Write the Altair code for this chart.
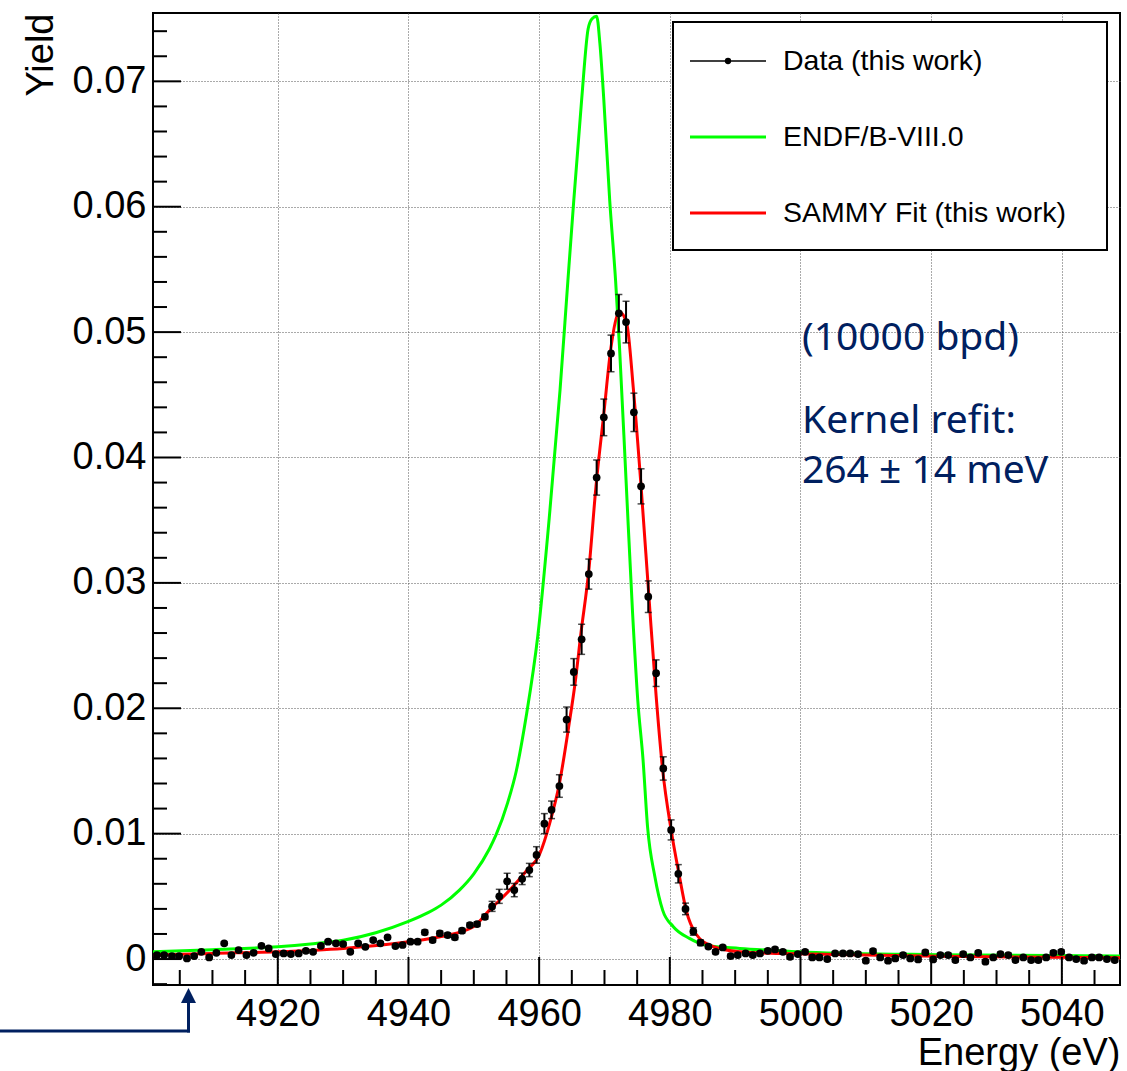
import altair as alt
import pandas as pd

# ---------------- data ----------------
energy = [
    4901.5, 4902.6, 4903.8, 4904.9, 4906.1, 4907.2, 4908.3, 4909.5, 4910.6, 4911.8,
    4912.9, 4914.0, 4915.2, 4916.3, 4917.5, 4918.6, 4919.7, 4920.9, 4922.0, 4923.2,
    4924.3, 4925.4, 4926.6, 4927.7, 4928.9, 4930.0, 4931.1, 4932.3, 4933.4, 4934.6,
    4935.7, 4936.8, 4938.0, 4939.1, 4940.3, 4941.4, 4942.5, 4943.7, 4944.8, 4946.0,
    4947.1, 4948.2, 4949.4, 4950.5, 4951.7, 4952.8, 4953.9, 4955.1, 4956.2, 4957.4,
    4958.5, 4959.6, 4960.8, 4961.9, 4963.1, 4964.2, 4965.3, 4966.5, 4967.6, 4968.8,
    4969.9, 4971.0, 4972.2, 4973.3, 4974.5, 4975.6, 4976.7, 4977.9, 4979.0, 4980.2,
    4981.3, 4982.4, 4983.6, 4984.7, 4985.9, 4987.0, 4988.1, 4989.3, 4990.4, 4991.6,
    4992.7, 4993.8, 4995.0, 4996.1, 4997.3, 4998.4, 4999.6, 5000.7, 5001.8, 5002.9,
    5004.1, 5005.3, 5006.5, 5007.6, 5008.8, 5010.0, 5011.1, 5012.2, 5013.4, 5014.5,
    5015.7, 5016.8, 5018.0, 5019.1, 5020.3, 5021.4, 5022.6, 5023.7, 5024.9, 5026.0,
    5027.2, 5028.3, 5029.5, 5030.6, 5031.8, 5032.9, 5034.1, 5035.3, 5036.4, 5037.6,
    5038.7, 5039.9, 5041.1, 5042.2, 5043.4, 5044.6, 5045.7, 5046.9, 5048.1,
]
yield_data = [
    0.00032, 0.00032, 0.00024, 0.00024, 0.00005, 0.00024, 0.00058, 0.00013, 0.00050, 0.00125,
    0.00032, 0.00072, 0.00032, 0.00050, 0.00106, 0.00085, 0.00040, 0.00045, 0.00040, 0.00045,
    0.00066, 0.00058, 0.00106, 0.00138, 0.00125, 0.00120, 0.00058, 0.00125, 0.00098, 0.00151,
    0.00125, 0.00173, 0.00104, 0.00112, 0.00138, 0.00138, 0.00213, 0.00151, 0.00205, 0.00191,
    0.00173, 0.00226, 0.00271, 0.00279, 0.00337, 0.00420, 0.00500, 0.00620, 0.00550, 0.00640,
    0.00710, 0.00830, 0.01080, 0.01190, 0.01380, 0.01910, 0.02290, 0.02550, 0.03070, 0.03840,
    0.04320, 0.04830, 0.05150, 0.05080, 0.04360, 0.03770, 0.02890, 0.02280, 0.01520, 0.01030,
    0.00680, 0.00400, 0.00220, 0.00130, 0.00100, 0.00058, 0.00093, 0.00024, 0.00032, 0.00045,
    0.00032, 0.00045, 0.00066, 0.00077, 0.00058, 0.00018, 0.00040, 0.00058, 0.00013, 0.00013,
    0.00000, 0.00045, 0.00045, 0.00045, 0.00040, -0.00013, 0.00064, 0.00013, -0.00013, 0.00005,
    0.00032, 0.00005, -0.00003, 0.00053, -0.00003, 0.00032, 0.00032, -0.00008, 0.00040, 0.00013,
    0.00050, -0.00021, 0.00013, 0.00040, 0.00032, -0.00008, 0.00013, -0.00008, -0.00008, 0.00013,
    0.00050, 0.00058, 0.00013, 0.00000, -0.00013, 0.00013, 0.00013, 0.00000, -0.00008,
]
yield_err = [
    0.00012, 0.00012, 0.00012, 0.00012, 0.00012, 0.00012, 0.00012, 0.00012, 0.00012, 0.00012,
    0.00012, 0.00012, 0.00012, 0.00012, 0.00012, 0.00012, 0.00012, 0.00012, 0.00012, 0.00012,
    0.00012, 0.00012, 0.00012, 0.00012, 0.00012, 0.00012, 0.00012, 0.00012, 0.00012, 0.00012,
    0.00012, 0.00012, 0.00012, 0.00012, 0.00012, 0.00012, 0.00018, 0.00018, 0.00018, 0.00018,
    0.00018, 0.00018, 0.00018, 0.00018, 0.00020, 0.00040, 0.00056, 0.00064, 0.00053, 0.00046,
    0.00053, 0.00066, 0.00080, 0.00070, 0.00090, 0.00100, 0.00106, 0.00120, 0.00120, 0.00140,
    0.00146, 0.00146, 0.00150, 0.00166, 0.00153, 0.00140, 0.00126, 0.00106, 0.00093, 0.00080,
    0.00073, 0.00046, 0.00030, 0.00022, 0.00015, 0.00015, 0.00015, 0.00015, 0.00015, 0.00015,
    0.00015, 0.00015, 0.00015, 0.00015, 0.00015, 0.00015, 0.00015, 0.00015, 0.00015, 0.00015,
    0.00015, 0.00015, 0.00015, 0.00015, 0.00015, 0.00015, 0.00015, 0.00015, 0.00015, 0.00015,
    0.00015, 0.00015, 0.00015, 0.00015, 0.00015, 0.00015, 0.00015, 0.00015, 0.00015, 0.00015,
    0.00015, 0.00015, 0.00015, 0.00015, 0.00015, 0.00015, 0.00015, 0.00015, 0.00015, 0.00015,
    0.00015, 0.00015, 0.00015, 0.00015, 0.00015, 0.00015, 0.00015, 0.00015, 0.00015,
]

endf_e = [4900.9, 4910.0, 4920.0, 4925.0, 4930.0, 4935.0, 4940.0, 4943.0, 4945.0, 4947.8,
          4950.0, 4952.4, 4953.4, 4955.2, 4956.5, 4958.0, 4959.8, 4961.6, 4963.2, 4964.4,
          4965.3, 4966.5, 4967.5, 4968.1, 4968.8, 4969.3, 4969.9, 4970.8, 4971.7, 4972.3,
          4973.3, 4974.3, 4975.1, 4975.9, 4976.6, 4977.7, 4978.9, 4980.5, 4983.0, 4985.6,
          4990.7, 4996.8, 5001.0, 5021.0, 5048.9]
endf_y = [0.00058, 0.00075, 0.00098, 0.00120, 0.00150, 0.00210, 0.00300, 0.00370, 0.00430, 0.00550,
          0.00680, 0.00880, 0.00990, 0.01250, 0.01500, 0.01930, 0.02580, 0.03550, 0.04540, 0.05410,
          0.06050, 0.06850, 0.07420, 0.07500, 0.07520, 0.07300, 0.06850, 0.06050, 0.05410, 0.04880,
          0.03820, 0.02760, 0.02060, 0.01590, 0.01050, 0.00660, 0.00390, 0.00260, 0.00165, 0.00110,
          0.00085, 0.00066, 0.00055, 0.00035, 0.00025]

sammy_e = [4900.9, 4910.0, 4920.0, 4930.0, 4940.0, 4945.0, 4950.0, 4952.4, 4955.5, 4958.0,
           4960.1, 4961.6, 4963.1, 4964.6, 4965.5, 4966.4, 4967.6, 4968.7, 4969.9, 4971.0,
           4972.3, 4973.4, 4974.4, 4975.6, 4976.8, 4977.9, 4978.9, 4980.2, 4981.4, 4982.5,
           4984.0, 4986.6, 4990.7, 4996.8, 5001.0, 5021.0, 5048.9]
sammy_y = [0.00032, 0.00045, 0.00058, 0.00085, 0.00138, 0.00180, 0.00260, 0.00390, 0.00550, 0.00700,
           0.00840, 0.01080, 0.01400, 0.01880, 0.02200, 0.02600, 0.03100, 0.03770, 0.04350, 0.04880,
           0.05160, 0.05070, 0.04560, 0.03770, 0.02890, 0.02100, 0.01510, 0.01030, 0.00680, 0.00390,
           0.00200, 0.00100, 0.00058, 0.00045, 0.00040, 0.00022, 0.00010]

x_major = [4920, 4940, 4960, 4980, 5000, 5020, 5040]
x_minor = [v for v in range(4905, 5049, 5) if v % 20 != 0]
y_major = [0.0, 0.01, 0.02, 0.03, 0.04, 0.05, 0.06, 0.07]
y_minor = [-0.002, 0.002, 0.004, 0.006, 0.008, 0.012, 0.014, 0.016, 0.018, 0.022, 0.024,
           0.026, 0.028, 0.032, 0.034, 0.036, 0.038, 0.042, 0.044, 0.046, 0.048, 0.052,
           0.054, 0.056, 0.058, 0.062, 0.064, 0.066, 0.068, 0.072, 0.074]

legend_labels = ["Data (this work)", "ENDF/B-VIII.0", "SAMMY Fit (this work)"]
legend_colors = ["black", "#00ff00", "#ff0000"]
notes = ["(10000 bpd)", "Kernel refit:", "264 \u00b1 14 meV"]

# ---------------- layout ----------------
W, H = 967, 972
XDOM = [4900.9, 5048.9]
YDOM = [-0.00207, 0.07545]
FONT = "Liberation Sans"
NAVY = "#002060"
GRID = "#555555"

xs = alt.Scale(domain=XDOM, nice=False, zero=False)
ys = alt.Scale(domain=YDOM, nice=False, zero=False)

df = pd.DataFrame({"E": energy, "Y": yield_data, "err": yield_err})
df["lo"] = df["Y"] - df["err"]
df["hi"] = df["Y"] + df["err"]

x_axis = alt.Axis(values=x_major, format="d", labelFontSize=38, labelFont=FONT, labelColor="black",
                  ticks=False, domain=False, grid=True, gridColor=GRID, gridDash=[1, 2], gridWidth=1,
                  labelPadding=10, title="Energy (eV)", titleFontSize=38, titleFont=FONT,
                  titleFontWeight="normal", titleColor="black", titleX=W, titleY=79,
                  titleAlign="right", titleBaseline="alphabetic", labelFlush=False)
y_axis = alt.Axis(values=y_major, labelExpr="datum.value == 0 ? '0' : format(datum.value, '.2f')",
                  labelFontSize=38, labelFont=FONT, labelColor="black", ticks=False, domain=False,
                  grid=True, gridColor=GRID, gridDash=[1, 2], gridWidth=1, labelPadding=7,
                  title="Yield", titleFontSize=38, titleFont=FONT, titleFontWeight="normal",
                  titleColor="black", titleAngle=270, titleX=-101, titleY=0, titleAlign="right",
                  titleBaseline="alphabetic", labelFlush=False)


def X(field):
    return alt.X(field, scale=xs, axis=x_axis)


def Y(field):
    return alt.Y(field, scale=ys, axis=y_axis)


layers = []

# curves
endf_df = pd.DataFrame({"E": endf_e, "Y": endf_y})
sammy_df = pd.DataFrame({"E": sammy_e, "Y": sammy_y})
layers.append(alt.Chart(endf_df).mark_line(color="#00ff00", strokeWidth=3, interpolate="monotone").encode(
    x=X("E:Q"), y=Y("Y:Q")))
layers.append(alt.Chart(sammy_df).mark_line(color="#ff0000", strokeWidth=3, interpolate="monotone").encode(
    x=X("E:Q"), y=Y("Y:Q")))

# data: error bars, caps, points
layers.append(alt.Chart(df).mark_rule(color="black", strokeWidth=2).encode(
    x=X("E:Q"), y=Y("lo:Q"), y2="hi:Q"))
layers.append(alt.Chart(df).mark_tick(color="black", thickness=1.5, size=7, orient="horizontal").encode(
    x=X("E:Q"), y=Y("lo:Q")))
layers.append(alt.Chart(df).mark_tick(color="black", thickness=1.5, size=7, orient="horizontal").encode(
    x=X("E:Q"), y=Y("hi:Q")))
layers.append(alt.Chart(df).mark_circle(color="black", size=60, opacity=1).encode(
    x=X("E:Q"), y=Y("Y:Q")))

# inward ticks
layers.append(alt.Chart(pd.DataFrame({"v": x_major})).mark_rule(color="black", strokeWidth=2).encode(
    x=X("v:Q"), y=alt.value(H), y2=alt.value(H - 28)))
layers.append(alt.Chart(pd.DataFrame({"v": x_minor})).mark_rule(color="black", strokeWidth=2).encode(
    x=X("v:Q"), y=alt.value(H), y2=alt.value(H - 15)))
layers.append(alt.Chart(pd.DataFrame({"v": y_major})).mark_rule(color="black", strokeWidth=2).encode(
    y=Y("v:Q"), x=alt.value(0), x2=alt.value(28)))
layers.append(alt.Chart(pd.DataFrame({"v": y_minor})).mark_rule(color="black", strokeWidth=2).encode(
    y=Y("v:Q"), x=alt.value(0), x2=alt.value(14)))

# legend box
one = pd.DataFrame({"k": [0]})
layers.append(alt.Chart(one).mark_rect(fill="white", stroke="black", strokeWidth=2).encode(
    x=alt.value(520), x2=alt.value(954), y=alt.value(9), y2=alt.value(237)))
for lab, col, yy in zip(legend_labels, legend_colors, [48, 124, 200]):
    row = pd.DataFrame({"t": [lab]})
    layers.append(alt.Chart(row).mark_rule(color=col, strokeWidth=(1.5 if col == "black" else 3)).encode(
        x=alt.value(537), x2=alt.value(613), y=alt.value(yy)))
    layers.append(alt.Chart(row).mark_text(align="left", baseline="middle", fontSize=28.5, font=FONT,
                                           color="black").encode(
        x=alt.value(630), y=alt.value(yy), text="t:N"))
layers.append(alt.Chart(one).mark_circle(color="black", size=40, opacity=1).encode(
    x=alt.value(575), y=alt.value(48)))

# annotations
for txt, yy in zip(notes, [337, 420, 470]):
    layers.append(alt.Chart(pd.DataFrame({"t": [txt]})).mark_text(
        align="left", baseline="alphabetic", fontSize=39, font="Noto Sans", color=NAVY).encode(
        x=alt.value(649), y=alt.value(yy), text="t:N"))

# arrow outside the frame
layers.append(alt.Chart(one).mark_rule(color=NAVY, strokeWidth=3).encode(
    x=alt.value(-153), x2=alt.value(37), y=alt.value(1018)))
layers.append(alt.Chart(one).mark_rule(color=NAVY, strokeWidth=3).encode(
    x=alt.value(35.5), y=alt.value(1019.5), y2=alt.value(988)))
layers.append(alt.Chart(one).mark_point(shape="M-1,0L0,-2L1,0Z", filled=True, size=225, color=NAVY,
                                        opacity=1).encode(x=alt.value(35.5), y=alt.value(990)))

chart = alt.layer(*layers).properties(
    width=W, height=H,
    autosize=alt.AutoSizeParams(type="none"),
    padding={"left": 153, "top": 13, "right": 7, "bottom": 86},
    background="white",
).configure_view(stroke="black", strokeWidth=2)

chart.save("out.html", embed_options={"renderer": "svg", "actions": False})
